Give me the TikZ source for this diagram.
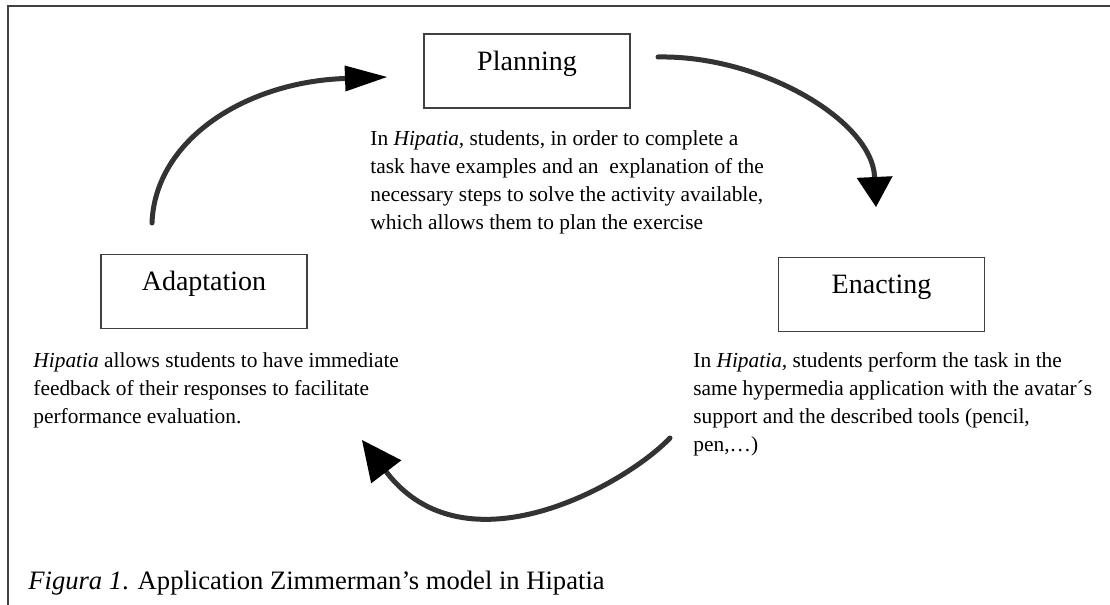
\documentclass[tikz,border=0pt]{standalone}
\usepackage{fontspec}
\setmainfont{Liberation Serif}
\usetikzlibrary{arrows.meta}

\begin{document}
\begin{tikzpicture}[x=0.5pt, y=-0.5pt,
  stage/.style={draw=black!75, line width=0.8pt, minimum width=103pt, minimum height=37pt,
    text height=9.5pt, text depth=10.5pt, font=\fontsize{14}{17}\selectfont},
  note/.style={anchor=west, inner sep=0pt, align=left, font=\fontsize{10.7}{14}\selectfont},
  cycle/.style={line width=2.5pt, draw=black!80, line cap=round},
  head/.style 2 args={-{Triangle[length=#1, width=#2, fill=black, line width=0pt]}}]
  \useasboundingbox (0,0) rectangle (1110,605);

  % frame
  \draw[black!75, line width=1pt] (8,605) -- (8,6) -- (1110,6);

  % stages
  \node[stage] (plan)  at (527,71)      {Planning};
  \node[stage] (enact) at (881.5,294.5) {Enacting};
  \node[stage] (adapt) at (204,291.5)   {Adaptation};

  % notes
  \node[note] (plan-text) at (370,182) {In \textit{Hipatia,} students, in order to complete a\\
    task have examples and an\ \ explanation of the\\
    necessary steps to solve the activity available,\\
    which allows them to plan the exercise};
  \node[note] (enact-text) at (693,404) {In \textit{Hipatia,} students perform the task in the\\
    same hypermedia application with the avatar´s\\
    support and the described tools (pencil,\\
    pen,…)};
  \node[note] (adapt-text) at (33,390) {\textit{Hipatia} allows students to have immediate\\
    feedback of their responses to facilitate\\
    performance evaluation.};

  \node[anchor=west, inner sep=0pt, font=\fontsize{13.3}{16}\selectfont] (caption) at (28,583)
    {\textit{Figura 1}. Application Zimmerman’s model in Hipatia};

  % cycle arrows
  \coordinate (adapt-out) at (152,223);
  \coordinate (plan-in)   at (387,77);
  \coordinate (plan-out)  at (658,57);
  \coordinate (enact-in)  at (876,207);
  \coordinate (enact-out) at (670,438);
  \coordinate (adapt-in)  at (362,440);

  \draw[cycle, head={21pt}{13pt}] (adapt-out) .. controls (155,140) and (245,82) .. (plan-in);
  \draw[cycle, head={15pt}{18pt}] (plan-out) .. controls (760,55) and (872,120) .. (enact-in);
  \draw[cycle, head={20pt}{19pt}] (enact-out) .. controls (625,485) and (465,575) .. (adapt-in);
\end{tikzpicture}
\end{document}
